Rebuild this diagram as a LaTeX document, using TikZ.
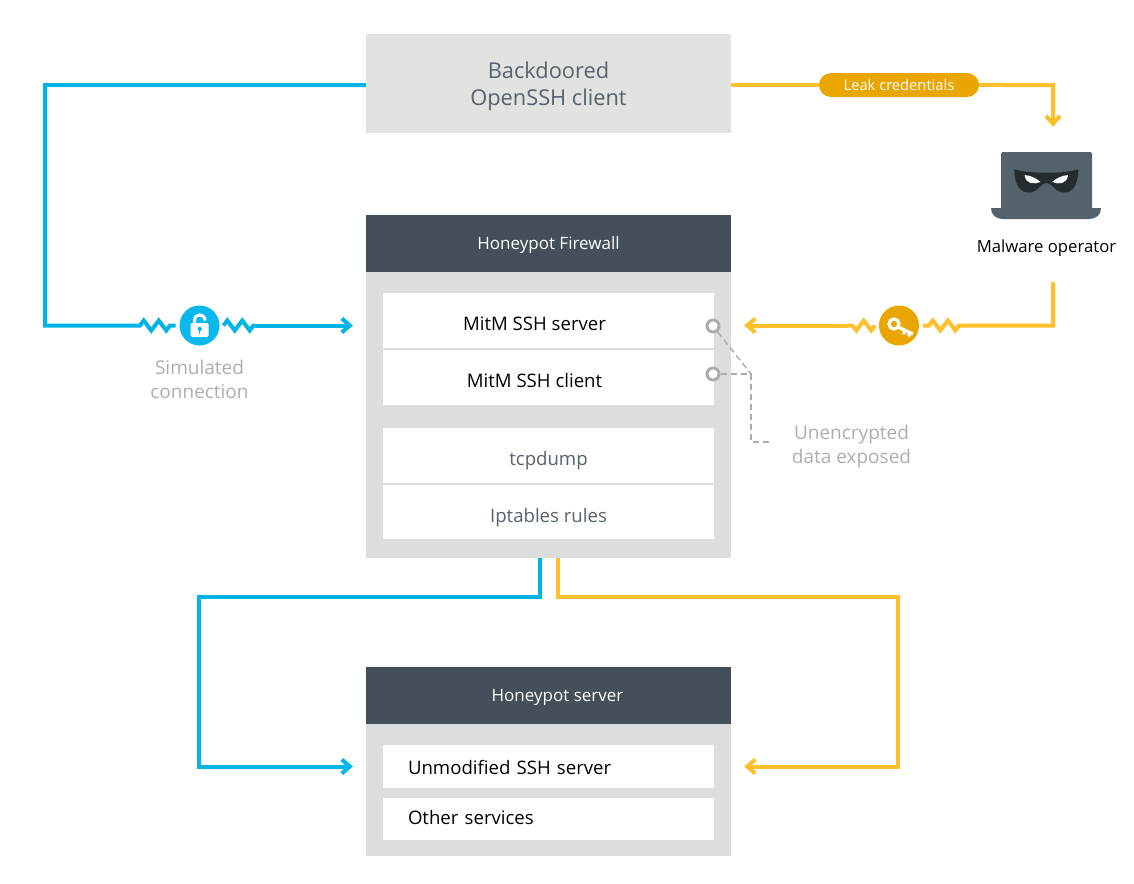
\documentclass[tikz,border=0pt]{standalone}
\usepackage{fontspec}
\setmainfont{Open Sans}
\usetikzlibrary{arrows.meta,decorations.pathmorphing,shapes.misc}
\definecolor{wireblue}{HTML}{00B4E6}
\definecolor{badgeblue}{HTML}{0BB8EE}
\definecolor{wireyellow}{HTML}{FFC02B}
\definecolor{badgeyellow}{HTML}{E9A500}
\definecolor{headdark}{HTML}{444F59}
\definecolor{bodygray}{HTML}{DCDEDD}
\definecolor{clientgray}{HTML}{E1E3E1}
\definecolor{slatetext}{HTML}{56626C}
\definecolor{notegray}{HTML}{A9AEB3}
\definecolor{laptopgray}{HTML}{54626C}
\definecolor{maskdark}{HTML}{252C30}
\begin{document}
\begin{tikzpicture}
    [x=1pt, y=-1pt,
    panel/.style={fill=bodygray, minimum width=365, inner sep=0},
    head/.style={fill=headdark, text=white, minimum width=365, minimum height=57, inner sep=0, text height=11, text depth=0, font=\fontsize{17}{20}\selectfont},
    row/.style={fill=white, minimum width=331, inner sep=0, text height=20, text depth=0, font=\fontsize{18.6}{22}\selectfont},
    leftrow/.style={row, text width=281, inner xsep=25, align=left},
    note/.style={text=notegray, align=center, font=\fontsize{19}{24}\selectfont},
    badge/.style={circle, minimum size=40, inner sep=0, outer sep=4},
    ring/.style={circle, draw=notegray, fill=white, line width=3, minimum size=12, inner sep=0},
    wire/.style={line width=4, line join=miter, -{Straight Barb[length=8pt,width=14pt]}},
    plainwire/.style={line width=4, line join=miter},
    zig/.style={decorate, decoration={zigzag, segment length=15, amplitude=5}},
    leader/.style={draw=notegray, line width=1.5, dash pattern=on 6pt off 4pt}]

    \useasboundingbox (0,0) rectangle (1134,883);

    % Boxes
    \node[panel, fill=clientgray, minimum height=99, text=slatetext, align=center, font=\fontsize{21.8}{27}\selectfont] (client) at (548.5,83.5) {\rule{0pt}{23pt}Backdoored\\OpenSSH client};

    \node[panel, minimum height=343] (fwbody) at (548.5,386.5) {};
    \node[head] (fwhead) at (548.5,243.5) {Honeypot Firewall};
    \node[row, minimum height=55] (mitmsrv) at (548.5,320.5) {\hspace*{-28pt}MitM SSH server};
    \node[row, minimum height=55] (mitmcli) at (548.5,377.5) {\hspace*{-28pt}MitM SSH client};
    \node[row, minimum height=55, text=slatetext] (tcpdump) at (548.5,455.5) {tcpdump};
    \node[row, minimum height=54, text=slatetext] (iptables) at (548.5,512) {Iptables rules};

    \node[panel, minimum height=189] (srvbody) at (548.5,761.5) {};
    \node[head] (srvhead) at (548.5,695.5) {\hspace*{18pt}Honeypot server};
    \node[leftrow, minimum height=43, text height=15] (unmod) at (548.5,766.5) {Unmodified SSH server};
    \node[leftrow, minimum height=42, text height=10] (other) at (548.5,819) {Other services};

    % Badges on the wires
    \node[badge, fill=badgeblue] (lock) at (199.5,325.5) {};
    \node[badge, fill=badgeyellow] (key) at (899,325.5) {};
    \node[fill=badgeyellow, text=white, rounded rectangle, minimum width=160, minimum height=24, inner sep=0, font=\fontsize{14.7}{17}\selectfont] (leak) at (899,85) {Leak credentials};

    % Laptop
    \node[fill=laptopgray, rounded corners=1.5pt, minimum width=91, minimum height=60, inner sep=0] (laptop) at (1046.5,182) {};
    \fill[laptopgray] (991,208) -- (1101,208) .. controls (1101,215) and (1096,219) .. (1089,219) -- (1003,219) .. controls (996,219) and (991,215) .. (991,208) -- cycle;
    \fill[maskdark] (1014.3,169.3) .. controls (1025,172.5) and (1036,172.7) .. (1046.3,172.7) .. controls (1057,172.7) and (1068,172.5) .. (1078.3,169.3)
        .. controls (1078.5,182) and (1074,194) .. (1062,192.5) .. controls (1055,191.5) and (1052,183) .. (1046.3,183)
        .. controls (1041,183) and (1038,191.5) .. (1031,192.5) .. controls (1019,194) and (1014,182) .. (1014.3,169.3) -- cycle;
    \fill[white] (1024.5,175) .. controls (1031,175.5) and (1036.5,178.5) .. (1040.5,182) .. controls (1034,184.5) and (1026,184.5) .. (1024.5,175) -- cycle;
    \fill[white] (1068.1,175) .. controls (1061.6,175.5) and (1056.1,178.5) .. (1052.1,182) .. controls (1058.6,184.5) and (1066.6,184.5) .. (1068.1,175) -- cycle;
    \node[font=\fontsize{16.7}{20}\selectfont] (operator) at (1046.5,248.5) {Malware operator};

    % Padlock icon
    \fill[white, rounded corners=1.5pt] (190.7,323) rectangle (208.7,337);
    \draw[white, line width=3] (194.5,323) -- (194.5,320.5) .. controls (194.5,313) and (205,313) .. (205,320.5);
    \fill[badgeblue] (199.7,329) circle (2.2);
    \draw[badgeblue, line width=1.5] (199.7,329) -- (199.7,333.5);

    % Key icon
    \draw[white, line width=3.2] (894,324) circle (5);
    \draw[white, line width=3.2] (898,327) -- (913,334) (905,330.5) -- (903.5,334.5) (910,332.5) -- (908.5,336.5);

    % Blue path
    \coordinate (bluetop) at (45,85);
    \coordinate (bluezig) at (140,325.5);
    \coordinate (bluezog) at (255,325.5);
    \coordinate (bluedrop) at (199,597);
    \draw[plainwire, wireblue] (client.west |- bluetop) -- (bluetop) -- (bluetop |- bluezig) -- (bluezig) decorate[zig] {-- (lock.west)};
    \draw[plainwire, wireblue] (lock.east) decorate[zig] {-- (bluezog)};
    \draw[wire, wireblue, shorten >=13] (bluezog) -- (fwbody.west |- bluezog);
    \draw[wire, wireblue, shorten >=13] ([xshift=-9]fwbody.south) |- (bluedrop) |- (srvbody.west |- unmod);

    % Yellow path
    \coordinate (leakturn) at (1053,85);
    \coordinate (opout) at (1053,282);
    \coordinate (yelzig) at (959,325.5);
    \coordinate (yelzog) at (847,325.5);
    \coordinate (yeldrop) at (898,597);
    \draw[plainwire, wireyellow] (client.east |- leak) -- (leak);
    \draw[wire, wireyellow, shorten >=25] (leak) -- (leakturn) -- (leakturn |- laptop.north);
    \draw[plainwire, wireyellow] (opout) -- (opout |- yelzig) -- (yelzig) decorate[zig] {-- (key.east)};
    \draw[plainwire, wireyellow] (key.west) decorate[zig] {-- (yelzog)};
    \draw[wire, wireyellow, shorten >=13] (yelzog) -- (fwbody.east |- yelzog);
    \draw[wire, wireyellow, shorten >=13] ([xshift=9]fwbody.south) |- (yeldrop) |- (srvbody.east |- unmod);

    % Exposed data leader
    \node[ring] (ringsrv) at (713,326) {};
    \node[ring] (ringcli) at (713,374) {};
    \coordinate (joint) at (751,374);
    \coordinate (jointlow) at (751,442);
    \coordinate (jointend) at (769,442);
    \draw[leader] (ringsrv) -- (joint);
    \draw[leader] (ringcli) -- (joint) -- (jointlow) -- (jointend);

    % Labels
    \node[note] (simlabel) at (199.5,379) {Simulated\\connection};
    \node[note] (unenc) at (851.5,447) {Unencrypted\\data exposed};

\end{tikzpicture}
\end{document}
